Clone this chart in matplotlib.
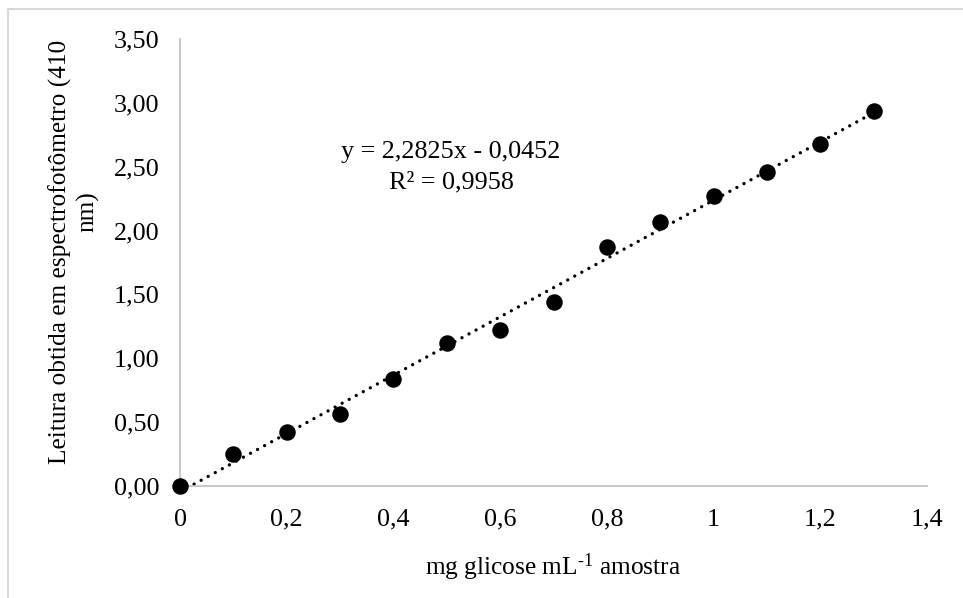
import numpy as np
import matplotlib
matplotlib.use("Agg")
import matplotlib.pyplot as plt
from matplotlib.ticker import FuncFormatter, MultipleLocator
from matplotlib.lines import Line2D

# ---- data ----
glicose = [0.0, 0.1, 0.2, 0.3, 0.4, 0.5, 0.6, 0.7, 0.8, 0.9, 1.0, 1.1, 1.2, 1.3]
leitura = [0.00, 0.25, 0.42, 0.56, 0.84, 1.12, 1.22, 1.44, 1.87, 2.07, 2.27, 2.46, 2.68, 2.94]
eq_line1 = "y = 2,2825x - 0,0452"
eq_line2 = "R² = 0,9958"
xlabel = "mg glicose mL$^{\\mathregular{\u2010}1}$ amostra"
ylabel_1 = "Leitura obtida em espectrofotômetro (410"
ylabel_2 = "nm)"

plt.rcParams['font.family'] = ['Liberation Serif', 'DejaVu Serif']
plt.rcParams['mathtext.fontset'] = 'custom'
plt.rcParams['mathtext.rm'] = 'Liberation Serif'
plt.rcParams['mathtext.it'] = 'Liberation Serif:italic'
plt.rcParams['mathtext.bf'] = 'Liberation Serif:bold'

W, H = 963, 598
fig = plt.figure(figsize=(W / 100, H / 100), dpi=100)
fs = 18.8
fs_lab = 18.3

def fx(px):
    return px / W

def fy(py):
    return 1 - py / H

ax = fig.add_axes([fx(180), fy(486), fx(927) - fx(180), fy(39) - fy(486)])
ax.set_xlim(0, 1.4)
ax.set_ylim(0, 3.5)

# trendline (least squares fit over the data)
coef = np.polyfit(glicose, leitura, 1)
xt = np.array([min(glicose), max(glicose)])
ax.plot(xt, np.polyval(coef, xt), color='black', lw=2.4,
        linestyle=(0, (0.01, 2.4)), dash_capstyle='round', zorder=2)

ax.scatter(glicose, leitura, s=118, color='black', zorder=3, clip_on=False)

for s in ['top', 'right']:
    ax.spines[s].set_visible(False)
for s in ['left', 'bottom']:
    ax.spines[s].set_color('#bfbfbf')
    ax.spines[s].set_linewidth(1.2)

ax.xaxis.set_major_locator(MultipleLocator(0.2))
ax.yaxis.set_major_locator(MultipleLocator(0.5))

def xfmt(v, pos):
    s = ("%.1f" % v).rstrip('0').rstrip('.')
    return s.replace('.', ',')

def yfmt(v, pos):
    return ("%.2f" % v).replace('.', ',')

ax.xaxis.set_major_formatter(FuncFormatter(xfmt))
ax.yaxis.set_major_formatter(FuncFormatter(yfmt))
ax.tick_params(axis='both', length=0, labelsize=fs)
ax.tick_params(axis='y', pad=15)
ax.tick_params(axis='x', pad=16.5)

# equation
fig.text(fx(451), fy(152), eq_line1, ha='center', va='center', fontsize=fs)
fig.text(fx(451), fy(182), eq_line2, ha='center', va='center', fontsize=fs)

# axis labels
fig.text(fx(553), fy(567), xlabel, ha='center', va='center', fontsize=fs_lab)
fig.text(fx(60), fy(252), ylabel_1, ha='center', va='center', rotation=90, fontsize=fs_lab)
fig.text(fx(88), fy(212), ylabel_2, ha='center', va='center', rotation=90, fontsize=fs_lab)

# chart area border (partially visible)
fig.add_artist(Line2D([fx(8), 1.0], [fy(9), fy(9)], color='#d9d9d9', lw=1.5))
fig.add_artist(Line2D([fx(8), fx(8)], [fy(9), 0.0], color='#d9d9d9', lw=1.5))

fig.savefig("out.png", dpi=100)
